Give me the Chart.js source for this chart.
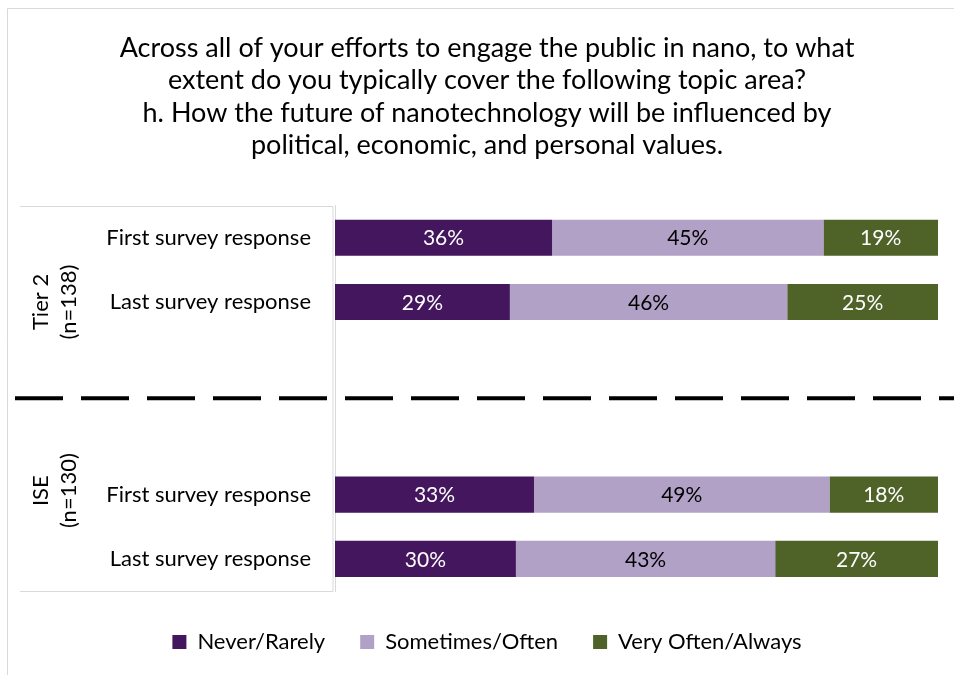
<!DOCTYPE html>
<html>
<head>
<meta charset="utf-8">
<script src="https://cdn.jsdelivr.net/npm/chart.js@4"></script>
<style>
  html, body { margin: 0; padding: 0; background: #fff; }
  #wrap { width: 954px; height: 675px; }
</style>
</head>
<body>
<div id="wrap"><canvas id="chart" width="954" height="675"></canvas></div>
<script>
var titleLines = [
  'Across all of your efforts to engage the public in nano, to what',
  'extent do you typically cover the following topic area?',
  'h. How the future of nanotechnology will be influenced by',
  'political, economic, and personal values.'
];
var categories = ['First survey response', 'Last survey response', '', '', 'First survey response', 'Last survey response'];
var neverRarely = [36, 29, null, null, 33, 30];
var sometimesOften = [45, 46, null, null, 49, 43];
var veryOften = [19, 25, null, null, 18, 27];
var seriesNames = ['Never/Rarely', 'Sometimes/Often', 'Very Often/Always'];
var groupLabels = [['Tier 2', '(n=138)'], ['ISE', '(n=130)']];

const colors = ['#43165e', '#b2a1c7', '#4f6228'];
const labelColors = ['#ffffff', '#000000', '#ffffff'];
const FONT = 'Lato';

// value labels, group box, dashed separator
const decorPlugin = {
  id: 'decor',
  beforeDraw(chart) {
    const ctx = chart.ctx;
    ctx.save();
    ctx.strokeStyle = '#d9d9d9';
    ctx.lineWidth = 1;
    ctx.beginPath();
    ctx.moveTo(7.5, 675); ctx.lineTo(7.5, 8.5); ctx.lineTo(954, 8.5);
    ctx.stroke();
    ctx.restore();
  },
  afterDatasetsDraw(chart) {
    const ctx = chart.ctx;
    const area = chart.chartArea;
    ctx.save();
    // value labels
    ctx.font = '21px ' + FONT;
    ctx.textAlign = 'center';
    ctx.textBaseline = 'middle';
    chart.data.datasets.forEach((ds, i) => {
      chart.getDatasetMeta(i).data.forEach((bar, j) => {
        if (ds.data[j] == null) return;
        ctx.fillStyle = labelColors[i];
        ctx.fillText(ds.data[j] + '%', (bar.x + bar.base) / 2, bar.y + 1);
      });
    });
    // group box
    const top = Math.round(area.top) + 0.5;
    const bottom = Math.round(area.bottom) + 0.5;
    ctx.strokeStyle = '#d9d9d9';
    ctx.lineWidth = 1;
    ctx.beginPath();
    ctx.moveTo(20, top); ctx.lineTo(area.left - 2, top); ctx.lineTo(area.left - 2, bottom); ctx.lineTo(20, bottom);
    ctx.stroke();
    // group labels (rotated)
    const half = (area.bottom - area.top) / 2;
    ctx.fillStyle = '#000';
    ctx.font = '22px ' + FONT;
    groupLabels.forEach((g, k) => {
      const cy = area.top + half * k + half / 2 - (k === 1 ? 4 : 0);
      ctx.save();
      ctx.translate(41, cy);
      ctx.rotate(-Math.PI / 2);
      ctx.fillText(g[0], 0, 0);
      ctx.restore();
      ctx.save();
      ctx.translate(69, cy);
      ctx.rotate(-Math.PI / 2);
      ctx.fillText(g[1], 0, 0);
      ctx.restore();
    });
    // dashed separator
    const sy = (area.top + area.bottom) / 2;
    ctx.strokeStyle = '#000';
    ctx.lineWidth = 4;
    ctx.setLineDash([48, 18]);
    ctx.beginPath();
    ctx.moveTo(15, sy); ctx.lineTo(954, sy);
    ctx.stroke();
    ctx.restore();
  }
};

new Chart(document.getElementById('chart'), {
  type: 'bar',
  data: {
    labels: categories,
    datasets: [
      { label: seriesNames[0], data: neverRarely, backgroundColor: colors[0] },
      { label: seriesNames[1], data: sometimesOften, backgroundColor: colors[1] },
      { label: seriesNames[2], data: veryOften, backgroundColor: colors[2] }
    ]
  },
  options: {
    responsive: false,
    animation: false,
    indexAxis: 'y',
    layout: { padding: { top: 0, right: 16, bottom: 12, left: 36 } },
    datasets: { bar: { barPercentage: 0.5625, categoryPercentage: 1 } },
    scales: {
      x: {
        stacked: true, min: 0, max: 100,
        grid: { display: false, drawTicks: false },
        border: { display: false },
        ticks: { display: false },
        afterFit(scale) { scale.height = 5; }
      },
      y: {
        stacked: true,
        grid: { display: false, drawTicks: false },
        border: { display: true, color: '#d9d9d9' },
        ticks: { color: '#000', padding: 24, font: { family: FONT, size: 22 } },
        afterFit(scale) { scale.width = 299; }
      }
    },
    plugins: {
      title: {
        display: true,
        text: titleLines,
        color: '#000',
        font: { family: FONT, size: 27, weight: 'normal', lineHeight: 1.2 },
        padding: { top: 32, bottom: 44 }
      },
      legend: {
        position: 'bottom',
        labels: {
          color: '#000',
          font: { family: FONT, size: 22 },
          boxWidth: 14, boxHeight: 14,
          padding: 35
        }
      },
      tooltip: { enabled: false }
    }
  },
  plugins: [decorPlugin]
});
</script>
</body>
</html>
